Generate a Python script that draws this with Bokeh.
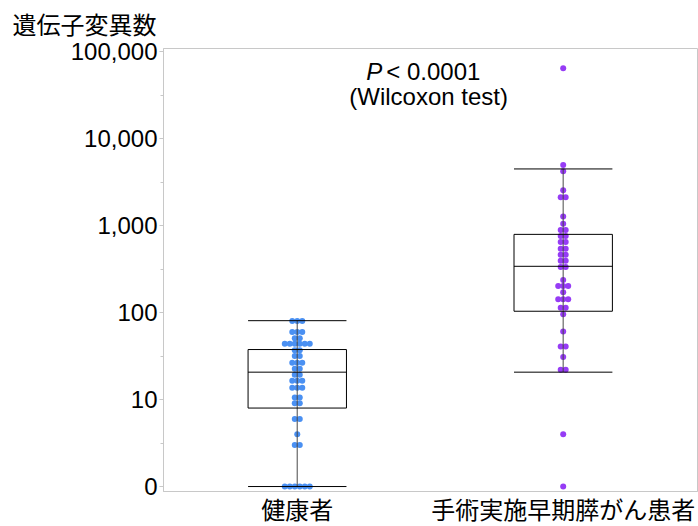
import numpy as np
from collections import Counter
from bokeh.plotting import figure
from bokeh.models import FixedTicker, Label
from bokeh.embed import file_html
from bokeh.resources import INLINE

# ---------------- data ----------------
groups = ["健康者", "手術実施早期膵がん患者"]
y_title = "遺伝子変異数"
y_tick_values = [0, 10, 100, 1000, 10000, 100000]
y_tick_labels = ["0", "10", "100", "1,000", "10,000", "100,000"]

healthy_values = [0, 0, 0, 0, 0, 0, 3.0, 3.0, 4.0, 6.0, 6.0, 9.1, 9.1,
                  10.6, 10.6, 13.7, 13.7, 13.7, 16.5, 16.5, 16.5, 19.3, 19.3,
                  22.6, 22.6, 26.5, 26.5, 26.5, 31.7, 31.7, 37, 37,
                  43.9, 43.9, 43.9, 43.9, 43.9, 43.9, 51, 51, 60, 60, 60,
                  80.5, 80.5, 80.5]
patient_values = [0, 4.0, 22, 22, 31, 40.8, 40.8, 61, 96, 114, 114,
                  143, 143, 143, 172, 203, 203, 203, 238, 336, 336, 396, 396,
                  465, 465, 545, 545, 650, 650, 762, 762, 893, 893, 1055, 1280,
                  2130, 2130, 2570, 4250, 5000, 65000]

box_q1 = [8.0, 104]
box_median = [20.7, 342]
box_q3 = [37.7, 797]
whisker_low = [0, 20.7]
whisker_high = [81, 4510]

colors = ["#4a90f2", "#963cf5"]

LATIN = "Liberation Sans"
MIXED = "Liberation Sans, Noto Sans CJK JP"


def to_axis(v):
    return np.log10(np.maximum(np.asarray(v, dtype=float), 1.0))


def swarm(vals, center, step):
    counts = Counter(vals)
    seen = {}
    xs, ys = [], []
    for v in vals:
        n = counts[v]
        i = seen.get(v, 0)
        seen[v] = i + 1
        xs.append(center + (i - (n - 1) / 2) * step)
        ys.append(float(to_axis(v)))
    return xs, ys


x_lo, x_hi = 0.497, 2.505
y_lo, y_hi = -0.057, 5.04
p = figure(width=698, height=526, x_range=(x_lo, x_hi), y_range=(y_lo, y_hi),
           output_backend="svg", toolbar_location=None,
           min_border_left=163, min_border_right=1, min_border_top=47,
           min_border_bottom=35)
p.xgrid.visible = False
p.ygrid.visible = False
p.outline_line_color = "#c8c8c8"
p.background_fill_color = "white"
p.border_fill_color = "white"

frame_w = 534.0
step = 5.0 * (x_hi - x_lo) / frame_w
box_w = 0.37

centers = [1, 2]
for c, vals, col in zip(centers, [healthy_values, patient_values], colors):
    xs, ys = swarm(vals, c, step)
    p.scatter(xs, ys, size=6, fill_color=col, line_color=None)

for k, c in enumerate(centers):
    # whisker vertical line
    p.segment(x0=[c], y0=[float(to_axis(whisker_low[k]))], x1=[c],
              y1=[float(to_axis(whisker_high[k]))],
              line_color="#444444", line_alpha=0.75, line_width=1.3)
    # box
    p.quad(left=[c - box_w / 2], right=[c + box_w / 2],
           bottom=[float(to_axis(box_q1[k]))], top=[float(to_axis(box_q3[k]))],
           fill_color=None, line_color="black", line_width=1)
    # median and caps
    for v in [box_median[k], whisker_low[k], whisker_high[k]]:
        yv = float(to_axis(v))
        p.segment(x0=[c - box_w / 2], y0=[yv], x1=[c + box_w / 2], y1=[yv],
                  line_color="black", line_width=1)

# y axis
yt = [float(t) for t in to_axis(y_tick_values)]
p.yaxis.ticker = FixedTicker(ticks=yt, minor_ticks=[t + 0.5 for t in yt[:-1]])
p.yaxis.major_label_overrides = {t: lab for t, lab in zip(yt, y_tick_labels)}
p.yaxis.axis_line_color = "#c8c8c8"
p.yaxis.major_tick_line_color = "#c8c8c8"
p.yaxis.minor_tick_line_color = "#c8c8c8"
p.yaxis.major_tick_out = 4
p.yaxis.major_tick_in = 0
p.yaxis.minor_tick_out = 3
p.yaxis.minor_tick_in = 0
p.yaxis.major_label_text_font = LATIN
p.yaxis.major_label_text_font_size = "24px"
p.yaxis.major_label_text_color = "black"
p.yaxis.major_label_standoff = 2

# x axis
p.xaxis.ticker = FixedTicker(ticks=centers, minor_ticks=[])
p.xaxis.major_label_overrides = {c: g for c, g in zip(centers, groups)}
p.xaxis.axis_line_color = "#c8c8c8"
p.xaxis.major_tick_line_color = None
p.xaxis.minor_tick_line_color = None
p.xaxis.major_tick_out = 0
p.xaxis.major_tick_in = 0
p.xaxis.major_label_text_font = MIXED
p.xaxis.major_label_text_font_size = "24px"
p.xaxis.major_label_text_color = "black"
p.xaxis.major_label_standoff = 5

# y quantity title, top-left
p.title.text = y_title
p.title.text_font = MIXED
p.title.text_font_size = "24px"
p.title.text_font_style = "normal"
p.title.text_color = "black"
p.title.align = "left"
p.title.offset = -151
p.title.standoff = 19

# p-value annotation
p.add_layout(Label(x=1.5, y=4.7725, x_offset=-64, text="P", text_font=LATIN,
                   text_font_style="italic", text_font_size="24px",
                   text_baseline="middle", text_align="left", text_color="black"))
p.add_layout(Label(x=1.5, y=4.7725, x_offset=-44, text="< 0.0001", text_font=LATIN,
                   text_font_size="24px", text_baseline="middle",
                   text_align="left", text_color="black"))
p.add_layout(Label(x=1.5, y=4.4855, x_offset=-81, text="(Wilcoxon test)",
                   text_font=LATIN, text_font_size="24px",
                   text_baseline="middle", text_align="left", text_color="black"))

open("out.html", "w").write(file_html(p, INLINE))
